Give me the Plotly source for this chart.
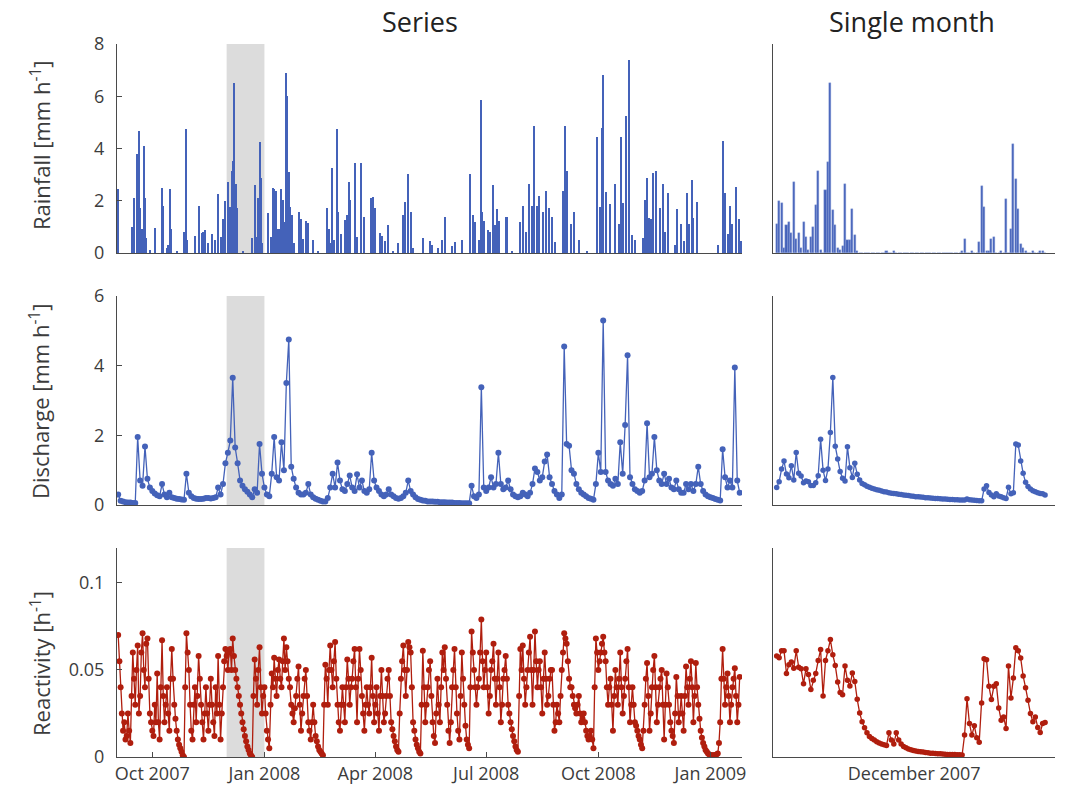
import pandas as pd
import plotly.graph_objects as go

# ---------------- data ----------------
# Discharge series (every 2 days, starting 2007-09-03)
SERIES_START = "2007-09-03"
DISCHARGE_STEP = "2D"
DISCHARGE = [
    0.3, 0.12, 0.1, 0.08, 0.07, 0.07, 0.06, 0.06, 1.95, 0.7,
    0.55, 1.68, 0.75, 0.5, 0.4, 0.33, 0.28, 0.25, 0.6, 0.3,
    0.22, 0.35, 0.22, 0.2, 0.18, 0.17, 0.16, 0.15, 0.9, 0.35,
    0.25, 0.2, 0.18, 0.17, 0.17, 0.18, 0.2, 0.2, 0.19, 0.2,
    0.22, 0.5, 0.3, 0.6, 1.2, 1.5, 1.85, 3.65, 1.65, 1.2,
    0.7, 0.55, 0.45, 0.38, 0.3, 0.22, 0.45, 0.35, 1.75, 0.9,
    0.5, 0.3, 0.25, 0.9, 1.95, 0.8, 0.7, 1.8, 1.0, 3.5,
    4.75, 1.1, 0.75, 0.5, 0.35, 0.3, 0.3, 0.35, 0.6, 0.3,
    0.22, 0.18, 0.15, 0.12, 0.1, 0.1, 0.2, 0.5, 0.9, 0.5,
    1.22, 0.7, 0.45, 0.4, 0.6, 0.85, 0.5, 0.4, 0.88, 0.5,
    0.7, 0.4, 0.35, 0.45, 1.5, 0.7, 0.5, 0.4, 0.3, 0.25,
    0.3, 0.45, 0.3, 0.25, 0.2, 0.18, 0.2, 0.25, 0.35, 0.7,
    0.4, 0.3, 0.22, 0.17, 0.15, 0.13, 0.12, 0.1, 0.1, 0.1,
    0.09, 0.09, 0.08, 0.08, 0.08, 0.07, 0.07, 0.07, 0.06, 0.06,
    0.06, 0.05, 0.05, 0.05, 0.05, 0.55, 0.25, 0.2, 0.3, 3.38,
    0.5, 0.4, 0.5, 0.8, 0.5, 0.6, 1.5, 0.6, 0.45, 0.5,
    0.7, 0.45, 0.3, 0.25, 0.22, 0.25, 0.35, 0.3, 0.25, 0.35,
    0.6, 1.05, 0.95, 0.7, 0.8, 1.25, 1.45, 0.8, 0.6, 0.4,
    0.3, 0.2, 0.3, 4.55, 1.75, 1.7, 1.0, 0.9, 0.6, 0.45,
    0.35, 0.3, 0.25, 0.2, 0.18, 0.15, 0.6, 1.5, 0.95, 5.3,
    0.95, 0.7, 0.6, 0.55, 0.75, 0.6, 1.8, 0.9, 2.3, 4.3,
    0.8, 0.6, 0.45, 0.4, 0.35, 0.4, 0.7, 2.35, 0.8, 0.9,
    1.95, 1.0, 0.7, 0.6, 0.9, 0.6, 0.75, 0.5, 0.45, 0.7,
    0.45, 0.35, 0.35, 0.6, 0.45, 0.6, 0.4, 0.6, 1.1, 0.6,
    0.4, 0.3, 0.25, 0.22, 0.2, 0.17, 0.15, 0.13, 1.6, 0.8,
    0.5, 0.7, 0.5, 3.95, 0.7, 0.35,
]

# Reactivity series (daily, starting 2007-09-03)
REACTIVITY_STEP = "1D"
REACTIVITY = [
    0.07, 0.055, 0.04, 0.025, 0.015, 0.02, 0.01, 0.012, 0.025, 0.015,
    0.008, 0.035, 0.06, 0.045, 0.03, 0.05, 0.064, 0.025, 0.035, 0.06,
    0.071, 0.05, 0.04, 0.065, 0.068, 0.045, 0.025, 0.02, 0.015, 0.012,
    0.03, 0.02, 0.048, 0.02, 0.01, 0.04, 0.067, 0.035, 0.02, 0.03,
    0.04, 0.025, 0.015, 0.045, 0.062, 0.045, 0.03, 0.022, 0.015, 0.01,
    0.007, 0.005, 0.003, 0.001, 0.0, 0.04, 0.071, 0.06, 0.05, 0.03,
    0.015, 0.01, 0.03, 0.04, 0.02, 0.035, 0.058, 0.045, 0.03, 0.02,
    0.01, 0.025, 0.04, 0.025, 0.015, 0.03, 0.045, 0.03, 0.02, 0.012,
    0.04, 0.025, 0.058, 0.03, 0.01, 0.025, 0.04, 0.055, 0.062, 0.058,
    0.05, 0.06, 0.062, 0.05, 0.068, 0.058, 0.05, 0.045, 0.04, 0.035,
    0.03, 0.025, 0.02, 0.016, 0.012, 0.009, 0.006, 0.004, 0.002, 0.001,
    0.0, 0.035, 0.056, 0.045, 0.03, 0.05, 0.063, 0.04, 0.025, 0.035,
    0.04, 0.025, 0.015, 0.01, 0.005, 0.03, 0.048, 0.04, 0.057, 0.045,
    0.035, 0.05, 0.056, 0.045, 0.04, 0.055, 0.068, 0.05, 0.063, 0.055,
    0.045, 0.04, 0.03, 0.025, 0.02, 0.028, 0.035, 0.045, 0.052, 0.03,
    0.015, 0.025, 0.035, 0.045, 0.05, 0.035, 0.02, 0.015, 0.01, 0.02,
    0.03, 0.02, 0.012, 0.009, 0.006, 0.004, 0.003, 0.002, 0.001, 0.03,
    0.053, 0.045, 0.03, 0.05, 0.064, 0.05, 0.04, 0.055, 0.066, 0.045,
    0.03, 0.02, 0.015, 0.03, 0.04, 0.03, 0.02, 0.04, 0.056, 0.045,
    0.03, 0.04, 0.045, 0.055, 0.062, 0.04, 0.02, 0.045, 0.062, 0.05,
    0.035, 0.025, 0.015, 0.03, 0.04, 0.03, 0.025, 0.04, 0.057, 0.035,
    0.02, 0.03, 0.04, 0.025, 0.015, 0.035, 0.05, 0.035, 0.02, 0.025,
    0.035, 0.045, 0.05, 0.035, 0.02, 0.016, 0.012, 0.009, 0.006, 0.004,
    0.003, 0.025, 0.045, 0.055, 0.064, 0.05, 0.035, 0.05, 0.066, 0.063,
    0.06, 0.04, 0.02, 0.015, 0.01, 0.007, 0.005, 0.003, 0.002, 0.03,
    0.061, 0.04, 0.02, 0.03, 0.04, 0.05, 0.055, 0.035, 0.02, 0.012,
    0.008, 0.025, 0.045, 0.03, 0.02, 0.04, 0.06, 0.05, 0.063, 0.045,
    0.03, 0.015, 0.008, 0.02, 0.04, 0.05, 0.062, 0.04, 0.025, 0.015,
    0.01, 0.035, 0.06, 0.045, 0.03, 0.018, 0.01, 0.007, 0.005, 0.04,
    0.072, 0.06, 0.05, 0.04, 0.03, 0.04, 0.045, 0.06, 0.079, 0.055,
    0.04, 0.05, 0.06, 0.04, 0.025, 0.035, 0.05, 0.055, 0.065, 0.045,
    0.03, 0.045, 0.06, 0.04, 0.02, 0.03, 0.045, 0.05, 0.058, 0.045,
    0.03, 0.025, 0.02, 0.016, 0.012, 0.009, 0.006, 0.004, 0.003, 0.035,
    0.062, 0.05, 0.064, 0.045, 0.03, 0.04, 0.05, 0.06, 0.069, 0.05,
    0.03, 0.05, 0.072, 0.055, 0.04, 0.05, 0.055, 0.04, 0.025, 0.045,
    0.06, 0.045, 0.03, 0.035, 0.045, 0.05, 0.05, 0.03, 0.015, 0.02,
    0.03, 0.025, 0.02, 0.035, 0.05, 0.06, 0.071, 0.068, 0.065, 0.055,
    0.045, 0.04, 0.04, 0.035, 0.03, 0.028, 0.025, 0.03, 0.035, 0.025,
    0.02, 0.022, 0.025, 0.02, 0.015, 0.012, 0.01, 0.012, 0.015, 0.01,
    0.005, 0.04, 0.068, 0.06, 0.05, 0.055, 0.06, 0.065, 0.069, 0.06,
    0.055, 0.04, 0.03, 0.04, 0.045, 0.03, 0.015, 0.035, 0.05, 0.04,
    0.03, 0.045, 0.06, 0.04, 0.025, 0.035, 0.045, 0.055, 0.062, 0.04,
    0.02, 0.03, 0.04, 0.03, 0.02, 0.018, 0.015, 0.012, 0.01, 0.007,
    0.005, 0.015, 0.03, 0.045, 0.054, 0.035, 0.015, 0.025, 0.04, 0.05,
    0.058, 0.04, 0.02, 0.03, 0.04, 0.045, 0.05, 0.03, 0.01, 0.03,
    0.048, 0.04, 0.03, 0.02, 0.015, 0.012, 0.008, 0.025, 0.046, 0.035,
    0.02, 0.025, 0.035, 0.025, 0.015, 0.035, 0.052, 0.04, 0.03, 0.045,
    0.055, 0.04, 0.02, 0.035, 0.054, 0.04, 0.03, 0.022, 0.015, 0.011,
    0.008, 0.006, 0.004, 0.003, 0.002, 0.0015, 0.001, 0.001, 0.001, 0.001,
    0.001, 0.0015, 0.002, 0.008, 0.02, 0.045, 0.062, 0.045, 0.03, 0.04,
    0.048, 0.035, 0.02, 0.03, 0.04, 0.045, 0.051, 0.035, 0.02, 0.03,
    0.046,
]

# Rainfall spikes of the series: day offset from 2007-09-01 and intensity
RAIN_ORIGIN = "2007-09-01"
RAIN_DAY = [
    1.5, 13.1, 15.3, 17.7, 18.8, 20.2, 21.6, 22.9, 23.7, 24.8, 28.0, 32.5,
    37.7, 38.8, 41.8, 43.2, 44.5, 45.6, 50.0, 56.0, 57.4, 58.8, 65.0, 68.3,
    70.5, 71.9, 73.5, 76.0, 78.7, 81.5, 84.2, 86.1, 87.7, 89.7, 91.9, 93.8,
    95.1, 96.0, 96.8, 97.6, 98.4, 99.2, 104.2, 112.1, 114.3, 115.6, 117.0,
    118.4, 119.2, 120.3, 125.2, 127.1, 128.8, 130.1, 131.2, 133.4, 134.8,
    135.6, 137.0, 138.4, 139.4, 140.8, 141.9, 143.0, 144.4, 146.6, 150.4,
    152.0, 153.9, 156.1, 157.8, 162.1, 166.2, 173.1, 174.7, 175.8, 177.7,
    179.4, 181.3, 182.7, 185.1, 188.1, 189.5, 191.1, 192.2, 196.6, 197.7,
    201.5, 204.0, 209.2, 210.8, 213.0, 216.9, 218.5, 221.0, 223.2, 227.8,
    231.9, 235.4, 237.4, 240.1, 242.0, 244.2, 251.9, 257.6, 259.3, 264.7,
    267.5, 270.2, 276.2, 278.4, 284.4, 290.7, 293.5, 294.8, 298.1, 299.5,
    300.3, 302.2, 305.2, 307.1, 309.3, 311.2, 312.9, 314.5, 320.3, 321.4,
    324.9, 331.7, 334.5, 336.7, 339.1, 341.3, 343.5, 345.4, 347.6, 350.9,
    352.8, 355.3, 357.7, 360.5, 367.3, 368.4, 370.0, 373.9, 376.3, 380.4,
    387.0, 394.7, 397.4, 398.8, 399.6, 402.0, 405.6, 409.7, 413.3, 414.6,
    416.5, 418.5, 420.9, 423.4, 426.1, 433.0, 434.3, 435.7, 437.9, 439.2,
    441.2, 443.1, 446.6, 448.8, 450.7, 452.9, 458.9, 460.3, 463.9, 466.6,
    468.5, 470.2, 472.6, 474.0, 477.3, 494.5, 498.6, 500.0, 502.2, 504.1,
    505.7, 508.7, 511.7, 513.0,
]
RAIN_VAL = [
    2.44, 1.0, 2.1, 3.8, 4.67, 1.73, 0.9, 4.1, 2.1, 0.56, 0.1, 0.95,
    2.5, 1.8, 0.2, 0.3, 2.44, 0.9, 0.05, 0.8, 4.73, 0.5, 0.65, 1.8,
    0.78, 0.8, 0.88, 0.4, 0.73, 0.5, 2.24, 0.6, 1.29, 2.0, 2.73, 1.77,
    3.15, 3.52, 6.52, 2.41, 2.65, 1.71, 0.08, 0.56, 2.59, 0.63, 2.1,
    4.23, 2.86, 0.37, 1.52, 0.6, 2.5, 2.44, 2.39, 0.92, 0.9,
    2.44, 2.03, 1.2, 6.88, 6.0, 3.11, 1.77, 1.45, 0.4, 1.58,
    1.29, 0.52, 1.24, 1.13, 0.5, 0.08, 1.73, 0.92, 0.37, 3.24,
    0.5, 4.73, 1.58, 0.73, 1.26, 1.45, 2.73, 2.03, 3.43, 0.63,
    3.43, 1.36, 2.1, 2.16, 1.71, 0.75, 0.65, 0.46, 1.07, 0.08,
    0.37, 1.45, 1.94, 3.01, 1.58, 0.18, 0.59, 0.45, 0.3, 0.2,
    0.5, 1.36, 0.26, 0.42, 0.5, 3.01, 1.45, 1.17, 0.5, 5.87,
    1.58, 1.24, 0.88, 0.8, 2.6, 1.07, 1.67, 1.24, 1.36, 1.36,
    0.08, 1.17, 1.8, 0.8, 2.65, 1.8, 4.87, 1.8, 2.17, 1.58,
    2.37, 1.73, 1.36, 0.42, 2.37, 4.87, 3.15, 1.1, 1.58, 0.5,
    0.05, 4.45, 1.77, 4.8, 6.81, 2.35, 1.87, 2.65, 1.1, 4.45,
    1.9, 5.24, 7.39, 0.69, 0.5, 0.58, 2.03, 2.88, 1.33, 1.29,
    3.07, 3.15, 1.73, 2.65, 0.8, 2.3, 0.3, 1.67, 1.1, 0.46,
    2.3, 1.1, 2.79, 1.35, 1.96, 0.3, 4.3, 2.28, 0.73, 1.8,
    1.1, 2.51, 1.3, 0.46,
]

# Single month (6-hourly from 2007-12-01)
MONTH_START = "2007-12-01"
MONTH_STEP = "6h"
MONTH_RAIN = [
    1.12, 1.98, 1.92, 0.19, 1.06, 1.2, 0.78, 2.7, 0.55, 0.78,
    0.2, 1.2, 0.61, 0.13, 0.61, 0.98, 1.85, 3.13, 0.13, 0,
    2.4, 3.5, 6.5, 1.64, 1.06, 0.2, 0.13, 0.26, 2.63, 0.49,
    0.49, 1.7, 0.7, 0.06, 0, 0, 0, 0, 0, 0,
    0, 0, 0, 0, 0, 0.06, 0, 0, 0.06, 0,
    0, 0, 0, 0, 0, 0, 0, 0, 0, 0,
    0, 0, 0, 0, 0, 0, 0, 0, 0, 0,
    0, 0, 0, 0, 0, 0, 0.06, 0.55, 0, 0,
    0.06, 0, 0, 0.41, 2.56, 1.76, 0.06, 0.06, 0.55, 0.61,
    0, 0, 0.06, 0, 2.06, 0, 0.9, 4.19, 2.85, 1.7,
    0.34, 0.19, 0.06, 0, 0, 0.06, 0, 0, 0.06, 0.06,
    0,
]
MONTH_DISCHARGE = [
    0.5, 0.67, 1.03, 1.26, 0.89, 0.78, 1.13, 0.72, 1.51, 0.91,
    0.83, 0.64, 0.69, 0.67, 0.56, 0.56, 0.64, 0.84, 1.89, 1.0,
    0.7, 1.03, 2.08, 3.66, 1.69, 1.32, 0.96, 0.77, 0.69, 1.67,
    1.07, 0.79, 1.2, 0.88, 0.72, 0.62, 0.58, 0.54, 0.51, 0.48,
    0.46, 0.44, 0.42, 0.40, 0.38, 0.37, 0.35, 0.34, 0.33, 0.32,
    0.31, 0.30, 0.29, 0.28, 0.27, 0.26, 0.25, 0.24, 0.235, 0.23,
    0.22, 0.21, 0.205, 0.2, 0.195, 0.19, 0.185, 0.18, 0.175, 0.17,
    0.165, 0.16, 0.155, 0.15, 0.148, 0.145, 0.142, 0.14, 0.17, 0.15,
    0.14, 0.135, 0.13, 0.125, 0.12, 0.46, 0.55, 0.36, 0.29, 0.24,
    0.32, 0.26, 0.24, 0.21, 0.19, 0.51, 0.32, 0.35, 1.75, 1.72,
    1.26, 0.91, 0.65, 0.53, 0.46, 0.41, 0.38, 0.35, 0.33, 0.32,
    0.29,
]
MONTH_REACTIVITY = [
    0.058, 0.057, 0.061, 0.061, 0.048, 0.053, 0.0545, 0.051, 0.061, 0.0516,
    0.0507, 0.042, 0.0507, 0.0474, 0.0387, 0.044, 0.048, 0.0554, 0.0617, 0.035,
    0.0554, 0.061, 0.0674, 0.0587, 0.0526, 0.043, 0.037, 0.0358, 0.0522, 0.044,
    0.0408, 0.0482, 0.0434, 0.0331, 0.0253, 0.0202, 0.0168, 0.0139, 0.0118, 0.0106,
    0.0097, 0.0088, 0.008, 0.0075, 0.007, 0.0066, 0.0139, 0.0097, 0.0074, 0.0139,
    0.0097, 0.0075, 0.006, 0.0053, 0.0046, 0.0042, 0.0038, 0.0035, 0.0032, 0.003,
    0.0028, 0.0026, 0.0024, 0.0022, 0.0021, 0.002, 0.0019, 0.0018, 0.0017, 0.0016,
    0.0015, 0.0015, 0.0014, 0.0014, 0.0013, 0.0013, 0.0012, 0.0126, 0.0335, 0.0192,
    0.0126, 0.0179, 0.011, 0.0084, 0.031, 0.0564, 0.0558, 0.0406, 0.033, 0.0406,
    0.0421, 0.0282, 0.0211, 0.023, 0.0164, 0.0522, 0.0339, 0.0453, 0.0627, 0.061,
    0.0568, 0.0465, 0.0398, 0.0326, 0.025, 0.0202, 0.023, 0.017, 0.0141, 0.0192,
    0.0198,
]

SERIES_TICKS = ["2007-10-01", "2008-01-01", "2008-04-01", "2008-07-01",
                "2008-10-01", "2009-01-01"]
SERIES_TICKTEXT = ["Oct 2007", "Jan 2008", "Apr 2008", "Jul 2008",
                   "Oct 2008", "Jan 2009"]
HIGHLIGHT = ["2007-12-01", "2008-01-01"]
MONTH_LABEL = "December 2007"

# ---------------- figure ----------------
BLUE = "#4462B9"
RED = "#B01E0E"
AXC = "#4a4a4a"
FONT = "Open Sans"
W, H = 1077, 787

discharge_t = pd.date_range(SERIES_START, periods=len(DISCHARGE), freq=DISCHARGE_STEP)
react_t = pd.date_range(SERIES_START, periods=len(REACTIVITY), freq=REACTIVITY_STEP)
rain_t = pd.Timestamp(RAIN_ORIGIN) + pd.to_timedelta(RAIN_DAY, unit="D")
month_t = pd.date_range(MONTH_START, periods=len(MONTH_RAIN), freq=MONTH_STEP)

DAY_MS = 86400000
fig = go.Figure()

fig.add_trace(go.Bar(x=rain_t, y=RAIN_VAL, width=0.75 * DAY_MS,
                     marker=dict(color=BLUE, line=dict(width=0)),
                     xaxis="x", yaxis="y"))
fig.add_trace(go.Bar(x=month_t, y=MONTH_RAIN, width=0.85 * DAY_MS / 4,
                     marker=dict(color=BLUE, line=dict(width=0.4, color="#8fa3dc")),
                     xaxis="x2", yaxis="y2"))
fig.add_trace(go.Scatter(x=discharge_t, y=DISCHARGE, mode="lines+markers",
                         line=dict(color=BLUE, width=1.3),
                         marker=dict(color=BLUE, size=6),
                         xaxis="x3", yaxis="y3"))
fig.add_trace(go.Scatter(x=month_t, y=MONTH_DISCHARGE, mode="lines+markers",
                         line=dict(color=BLUE, width=1.3),
                         marker=dict(color=BLUE, size=5.5),
                         xaxis="x4", yaxis="y4"))
fig.add_trace(go.Scatter(x=react_t, y=REACTIVITY, mode="lines+markers",
                         line=dict(color=RED, width=1.3),
                         marker=dict(color=RED, size=6),
                         xaxis="x5", yaxis="y5"))
fig.add_trace(go.Scatter(x=month_t, y=MONTH_REACTIVITY, mode="lines+markers",
                         line=dict(color=RED, width=1.3),
                         marker=dict(color=RED, size=5.5),
                         xaxis="x6", yaxis="y6"))

def px_x(a, b):
    return [a / W, b / W]

def px_y(top, bottom):
    return [1 - bottom / H, 1 - top / H]

LEFT = px_x(117, 742)
RIGHT = px_x(773, 1055)
ROWS = [px_y(44, 253), px_y(296, 505), px_y(548, 757)]
SERIES_RANGE = ["2007-09-02 00:45", "2009-01-26 21:30"]
MONTH_RANGE = ["2007-11-30 14:54", "2007-12-29 12:22"]

tickfont = dict(family=FONT, size=18, color="#3c3c3c")
base_axis = dict(showline=True, linecolor=AXC, linewidth=1.3, showgrid=False,
                 zeroline=False, tickcolor=AXC, tickfont=tickfont, fixedrange=True,
                 automargin=False)

layout = dict(
    width=W, height=H, margin=dict(l=0, r=0, t=0, b=0, autoexpand=False),
    paper_bgcolor="white", plot_bgcolor="white", showlegend=False,
    bargap=0, font=dict(family=FONT, color="#222"),
)
yranges = [[0, 8], [0, 6], [0, 0.12]]
yticks = [[0, 2, 4, 6, 8], [0, 2, 4, 6], [0, 0.05, 0.1]]
yticktext = [["0", "2", "4", "6", "8"], ["0", "2", "4", "6"], ["0", "0.05", "0.1"]]
for r in range(3):
    li, ri = 2 * r + 1, 2 * r + 2
    ln = "" if li == 1 else str(li)
    rn = str(ri)
    xl = dict(base_axis, domain=LEFT, anchor="y" + ln, type="date", range=SERIES_RANGE)
    if r == 2:
        xl.update(tickvals=SERIES_TICKS, ticktext=SERIES_TICKTEXT, ticks="inside",
                  ticklen=5, tickwidth=1.2)
    else:
        xl.update(showticklabels=False, ticks="")
    xr = dict(base_axis, domain=RIGHT, anchor="y" + rn, type="date", range=MONTH_RANGE)
    if r == 2:
        xr.update(tickvals=["2007-12-15 02:00"], ticktext=[MONTH_LABEL], ticks="")
    else:
        xr.update(showticklabels=False, ticks="")
    yl = dict(base_axis, domain=ROWS[r], anchor="x" + ln, range=yranges[r],
              tickvals=yticks[r], ticktext=yticktext[r], ticks="inside",
              ticklen=5, tickwidth=1.2, ticklabelstandoff=8)
    yr = dict(base_axis, domain=ROWS[r], anchor="x" + rn, range=yranges[r],
              showticklabels=False, ticks="")
    layout["xaxis" + ln] = xl
    layout["yaxis" + ln] = yl
    layout["xaxis" + rn] = xr
    layout["yaxis" + rn] = yr
    fig.add_shape(type="rect", xref="x" + ln, yref=("y" + ln) + " domain",
                  x0=HIGHLIGHT[0], x1=HIGHLIGHT[1], y0=0, y1=1,
                  fillcolor="#dcdcdc", line=dict(width=0), layer="below")

fig.update_layout(**layout)

title_font = dict(family=FONT, size=27, color="#222")
fig.add_annotation(text="Series", x=420 / W, y=1 - 22 / H, xref="paper", yref="paper",
                   showarrow=False, font=title_font, xanchor="center", yanchor="middle")
fig.add_annotation(text="Single month", x=912 / W, y=1 - 22 / H, xref="paper",
                   yref="paper", showarrow=False, font=title_font,
                   xanchor="center", yanchor="middle")

label_font = dict(family=FONT, size=22, color="#3c3c3c")
for txt, yc in [("Rainfall [mm h<sup>-1</sup>]", 145),
                ("Discharge [mm h<sup>-1</sup>]", 401),
                ("Reactivity [h<sup>-1</sup>]", 663)]:
    fig.add_annotation(text=txt, x=40 / W, y=1 - yc / H, xref="paper", yref="paper",
                       showarrow=False, textangle=-90, font=label_font,
                       xanchor="center", yanchor="middle")

fig.write_html("out.html")
